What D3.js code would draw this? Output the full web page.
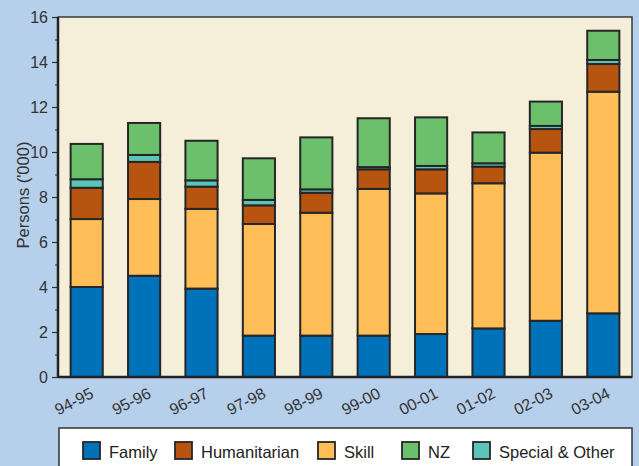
<!DOCTYPE html>
<html><head><meta charset="utf-8">
<script src="https://cdn.jsdelivr.net/npm/d3@7"></script>
<style>body{margin:0;background:#b6cfea;}svg{display:block;font-family:"Liberation Sans",Arial,sans-serif;}</style>
</head><body>
<svg id="c" width="639" height="466"></svg>
<script>
const categories = ["94-95","95-96","96-97","97-98","98-99","99-00","00-01","01-02","02-03","03-04"];
const family       = [4.0, 4.5, 3.93, 1.84, 1.84, 1.84, 1.91, 2.16, 2.5, 2.83];
const skill        = [3.02, 3.41, 3.54, 4.96, 5.46, 6.52, 6.25, 6.45, 7.47, 9.85];
const humanitarian = [1.39, 1.65, 0.99, 0.83, 0.89, 0.87, 1.07, 0.74, 1.05, 1.23];
const special      = [0.38, 0.31, 0.28, 0.24, 0.15, 0.10, 0.15, 0.15, 0.14, 0.18];
const nz           = [1.57, 1.42, 1.76, 1.85, 2.31, 2.17, 2.16, 1.37, 1.08, 1.30];
const yTicks = [0,2,4,6,8,10,12,14,16];
const seriesNames = ["Family","Skill","Humanitarian","Special & Other","NZ"];
const legendOrder = ["Family","Humanitarian","Skill","NZ","Special & Other"];
const colors = {"Family":"#0072b9","Humanitarian":"#b65410","Skill":"#ffbe58","NZ":"#6cc06b","Special & Other":"#5ac5b8"};

const rows = categories.map((c,i)=>({cat:c,"Family":family[i],"Skill":skill[i],"Humanitarian":humanitarian[i],"Special & Other":special[i],"NZ":nz[i]}));
const stack = d3.stack().keys(seriesNames)(rows);

const svg = d3.select("#c");
const L=58,T=17,R=632,B=377;
const x = d3.scaleBand().domain(categories).range([L,R]).paddingInner(0.44).paddingOuter(0.22);
const y = d3.scaleLinear().domain([0,16]).range([B,T]);

svg.append("rect").attr("x",L).attr("y",T).attr("width",R-L).attr("height",B-T).attr("fill","#f5efda");

// minor ticks
svg.append("g").attr("transform",`translate(${L},0)`)
  .call(d3.axisLeft(y).tickValues(d3.range(1,16,2)).tickSize(3).tickFormat(""))
  .call(g=>{g.select(".domain").remove();g.selectAll("line").attr("stroke","#333");});

const ya = svg.append("g").attr("transform",`translate(${L},0)`)
  .call(d3.axisLeft(y).tickValues(yTicks).tickSize(6).tickPadding(4));
ya.select(".domain").remove();
ya.selectAll("line").attr("stroke","#333").attr("stroke-width",1.2);
ya.selectAll("text").attr("font-size","16px").attr("fill","#333").attr("font-family","Liberation Sans, Arial, sans-serif");

svg.append("text").attr("transform",`translate(29,195) rotate(-90)`)
  .attr("text-anchor","middle").attr("font-size","16.5px").attr("fill","#333").text("Persons ('000)");

// bars
svg.append("g").selectAll("g").data(stack).join("g")
  .attr("fill",d=>colors[d.key])
  .selectAll("rect").data(d=>d).join("rect")
  .attr("x",d=>x(d.data.cat)).attr("width",x.bandwidth())
  .attr("y",d=>y(d[1])).attr("height",d=>y(d[0])-y(d[1]))
  .attr("stroke","#262626").attr("stroke-width",2);

// frame
svg.append("rect").attr("x",L).attr("y",T).attr("width",R-L).attr("height",B-T)
  .attr("fill","none").attr("stroke","#3a3a3a").attr("stroke-width",1.5);
svg.append("line").attr("x1",L).attr("x2",L).attr("y1",T).attr("y2",B).attr("stroke","#222").attr("stroke-width",2.5);
svg.append("line").attr("x1",L).attr("x2",R).attr("y1",B).attr("y2",B).attr("stroke","#222").attr("stroke-width",2.5);

// x labels
const xa = svg.append("g").attr("transform",`translate(0,${B})`)
  .call(d3.axisBottom(x).tickSize(0).tickPadding(0));
xa.select(".domain").remove();
xa.selectAll("text").attr("font-size","16px").attr("fill","#333")
  .attr("text-anchor","end").attr("dy","0")
  .attr("transform","translate(8,20) rotate(-27)");

// legend
svg.append("rect").attr("x",59).attr("y",428).attr("width",573).attr("height",50)
  .attr("fill","#ffffff").attr("stroke","#333").attr("stroke-width",1.5);
const legX = {"Family":83,"Humanitarian":175,"Skill":318,"NZ":402,"Special & Other":473};
const lg = svg.append("g").selectAll("g").data(legendOrder).join("g")
  .attr("transform",d=>`translate(${legX[d]},442)`);
lg.append("rect").attr("width",17).attr("height",17).attr("fill",d=>colors[d]).attr("stroke","#262626").attr("stroke-width",1.8);
lg.append("text").attr("x",26).attr("y",16).attr("font-size","16.5px").attr("fill","#222").text(d=>d);
</script>
</body></html>
